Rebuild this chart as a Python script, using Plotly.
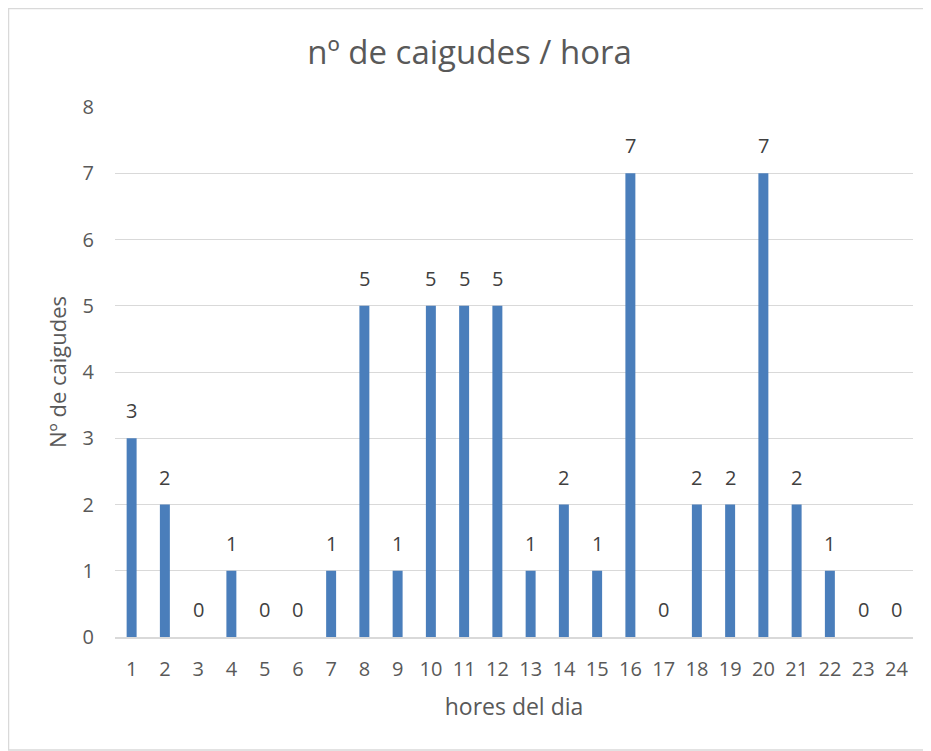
import plotly.graph_objects as go

hours = list(range(1, 25))
falls = [3, 2, 0, 1, 0, 0, 1, 5, 1, 5, 5, 5, 1, 2, 1, 7, 0, 2, 2, 7, 2, 1, 0, 0]
y_ticks = [0, 1, 2, 3, 4, 5, 6, 7, 8]

title_text = "nº de caigudes / hora"
x_title = "hores del dia"
y_title = "Nº de caigudes"

FONT = "Open Sans, Calibri, sans-serif"
TXT = "#595959"
BAR = "#4a7ebb"
GRID = "#d9d9d9"

# page has an 8px body margin; figure is sized to fill the rest of the window
OFF = 8
W, H = 931 - OFF, 751 - OFF
L, R, T, B = 115 - OFF, 931 - 913, 107 - OFF, 751 - 637
pw, ph = W - L - R, H - T - B

fig = go.Figure()
fig.add_trace(go.Bar(x=hours, y=falls, marker=dict(color=BAR, line=dict(width=0)),
                     hoverinfo="x+y"))

for h, v in zip(hours, falls):
    fig.add_annotation(x=h, y=v, text=str(v), showarrow=False, yanchor="bottom",
                       yshift=12, font=dict(family=FONT, size=20, color="#404040"))

def px_x(p):
    return (p - L) / pw

def px_y(p):
    return (H - B - p) / ph

fig.add_shape(type="rect", xref="paper", yref="paper",
              x0=px_x(0.5), x1=px_x(W - 1.0), y0=px_y(H - 1.0), y1=px_y(0.5),
              line=dict(color=GRID, width=1.5), fillcolor="rgba(0,0,0,0)", layer="below")

fig.update_layout(
    width=W, height=H,
    margin=dict(l=L, r=R, t=T, b=B, pad=0),
    paper_bgcolor="white", plot_bgcolor="white",
    bargap=0.7,
    showlegend=False,
    font=dict(family=FONT, color=TXT, size=20),
    title=dict(text=title_text, x=0.5, xref="container", xanchor="center",
               y=1 - (52 - OFF) / H, yref="container", yanchor="middle",
               font=dict(family=FONT, size=33, color=TXT)),
    xaxis=dict(range=[0.5, 24.5], tickvals=hours, showgrid=False, showline=True,
               linecolor=GRID, linewidth=1.5,
               ticks="", ticklabelstandoff=13, tickfont=dict(size=20, color=TXT),
               title=dict(text=x_title, standoff=18, font=dict(size=23, color=TXT)),
               zeroline=False, fixedrange=True),
    yaxis=dict(range=[0, 8], tickvals=y_ticks, showgrid=True, gridcolor=GRID, gridwidth=1,
               zeroline=False, showline=False, ticks="", ticklabelstandoff=20,
               tickfont=dict(size=20, color=TXT),
               title=dict(text=y_title, standoff=9, font=dict(size=22, color=TXT)),
               fixedrange=True),
)

fig.write_html("out.html")
